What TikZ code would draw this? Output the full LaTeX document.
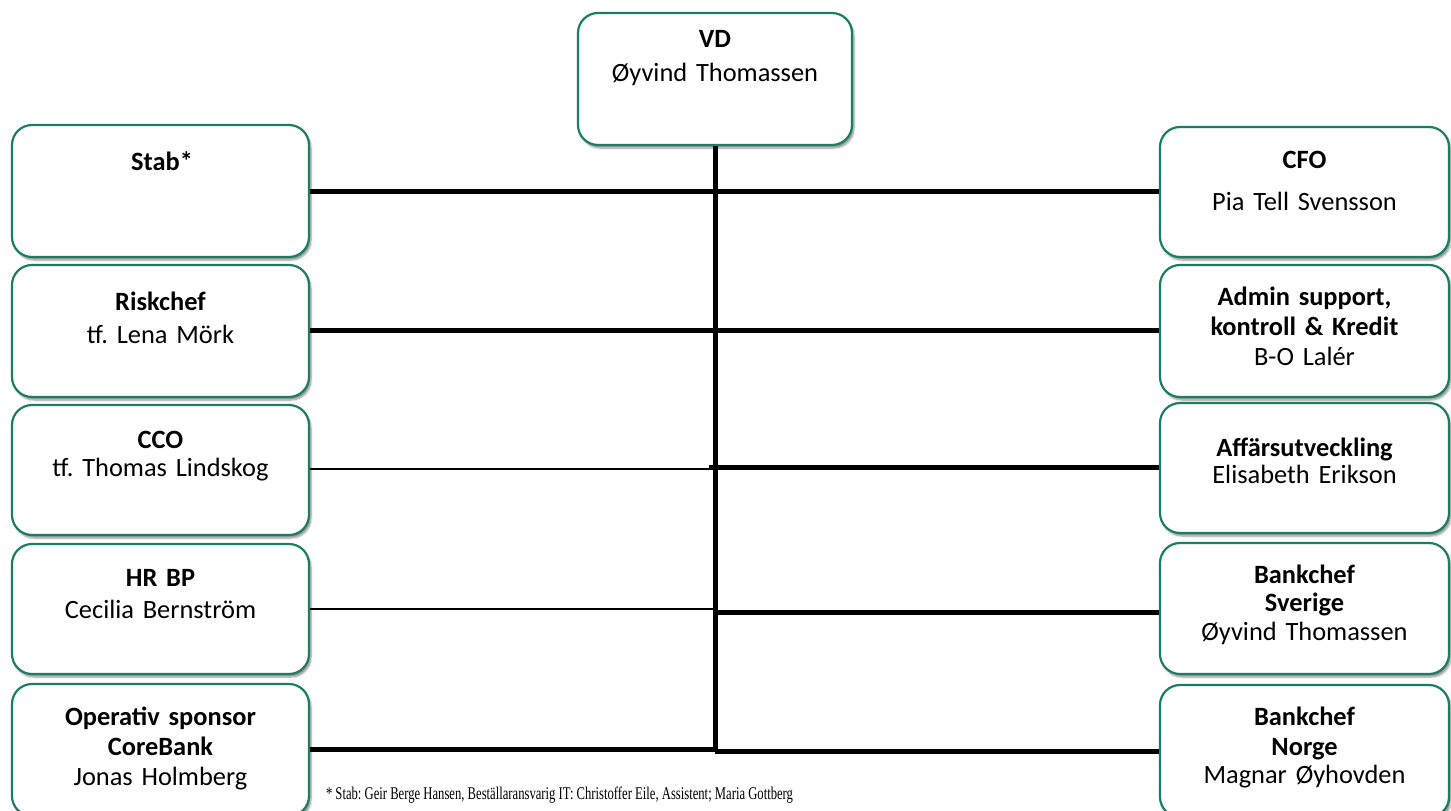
\documentclass[tikz,border=0pt]{standalone}
\usepackage{fontspec}
\setmainfont{Carlito}
\newfontfamily\footfont{Liberation Serif}
\usetikzlibrary{shadows.blur}
\definecolor{boxgreen}{RGB}{28,124,102}
\tikzset{
  orgbox/.style={draw=boxgreen, line width=2.2pt, fill=white, rounded corners=20pt,
    minimum width=#1, inner sep=0pt,
    blur shadow={shadow xshift=2pt, shadow yshift=-3pt, shadow blur steps=6, shadow opacity=45}},
  orgbox/.default=297pt,
  boxtext/.style={anchor=north, inner sep=0pt, align=center, text width=280pt,
    font=\fontsize{26.4}{30}\selectfont\frenchspacing},
  thick link/.style={line width=5pt, line cap=butt},
  thin link/.style={line width=2.6pt, line cap=butt}
}
\newcommand\fs{\rule{0pt}{20pt}}
\begin{document}
\begin{tikzpicture}[x=1pt,y=-1pt]
\useasboundingbox (0,0) rectangle (1451,811);
\clip (0,0) rectangle (1451,811);
% boxes
\node[orgbox=274pt, minimum height=132pt] (vd) at (715,79) {};
\node[orgbox, minimum height=132pt] (stab) at (160.5,191) {};
\node[orgbox, minimum height=132pt] (risk) at (160.5,331) {};
\node[orgbox, minimum height=130pt] (cco) at (160.5,470) {};
\node[orgbox, minimum height=130pt] (hr) at (160.5,609) {};
\node[orgbox, minimum height=132pt] (oper) at (160.5,750) {};
\node[orgbox=289pt, minimum height=130pt] (cfo) at (1304.5,192) {};
\node[orgbox=289pt, minimum height=132pt] (admin) at (1304.5,331) {};
\node[orgbox=289pt, minimum height=130pt] (aff) at (1304.5,468) {};
\node[orgbox=289pt, minimum height=131pt] (sve) at (1304.5,608.5) {};
\node[orgbox=289pt, minimum height=132pt] (nor) at (1304.5,751) {};
% texts
\node[boxtext] (vd-t) at (715,27) {\fs\textbf{VD}\\[4pt]Øyvind Thomassen};
\node[boxtext] (stab-t) at (162,150) {\fs\textbf{Stab*}};
\node[boxtext] (risk-t) at (160.5,290) {\fs\textbf{Riskchef}\\[3pt]tf. Lena Mörk};
\node[boxtext] (cco-t) at (160.5,428) {\fs\textbf{CCO}\\[-2pt]tf. Thomas Lindskog};
\node[boxtext] (hr-t) at (160.5,566) {\fs\textbf{HR BP}\\[2pt]Cecilia Bernström};
\node[boxtext] (oper-t) at (160.5,705) {\fs\textbf{Operativ sponsor}\\\textbf{CoreBank}\\Jonas Holmberg};
\node[boxtext] (cfo-t) at (1304.5,148) {\fs\textbf{CFO}\\[12pt]Pia Tell Svensson};
\node[boxtext] (admin-t) at (1304.5,285) {\fs\textbf{Admin support,}\\\textbf{kontroll \& Kredit}\\B-O Lalér};
\node[boxtext] (aff-t) at (1304.5,436) {\fs\textbf{Affärsutveckling}\\[-3pt]Elisabeth Erikson};
\node[boxtext] (sve-t) at (1304.5,563) {\fs\textbf{Bankchef}\\[-1.5pt]\textbf{Sverige}\\[-1.5pt]Øyvind Thomassen};
\node[boxtext] (nor-t) at (1304.5,705) {\fs\textbf{Bankchef}\\\textbf{Norge}\\[-2pt]Magnar Øyhovden};
% connectors
\coordinate (spineEnd) at (715,752);
\coordinate (ccoEnd) at (743,469);
\coordinate (affStart) at (709,467);
\coordinate (hrEnd) at (715,609);
\coordinate (sveStart) at (715,612);
\coordinate (operEnd) at (715,749);
\coordinate (norStart) at (715,751);
\draw[thick link] (vd.south) -- (spineEnd);
\draw[thick link] (stab.east |- 0,191) -- (cfo.west |- 0,191);
\draw[thick link] (risk.east |- 0,330) -- (admin.west |- 0,330);
\draw[thin link] (cco.east |- ccoEnd) -- (ccoEnd);
\draw[thick link] (affStart) -- (aff.west |- affStart);
\draw[thin link] (hr.east |- hrEnd) -- (hrEnd);
\draw[thick link] (sveStart) -- (sve.west |- sveStart);
\draw[thick link] (oper.east |- operEnd) -- (operEnd);
\draw[thick link] (norStart) -- (nor.west |- norStart);
% footnote
\node[anchor=base, inner sep=0pt] (foot) at (559.5,799) {\resizebox{467pt}{12.6pt}{\footfont\fontsize{18}{20}\selectfont\frenchspacing * Stab: Geir Berge Hansen, Beställaransvarig IT: Christoffer Eile, Assistent; Maria Gottberg}};
\end{tikzpicture}
\end{document}
